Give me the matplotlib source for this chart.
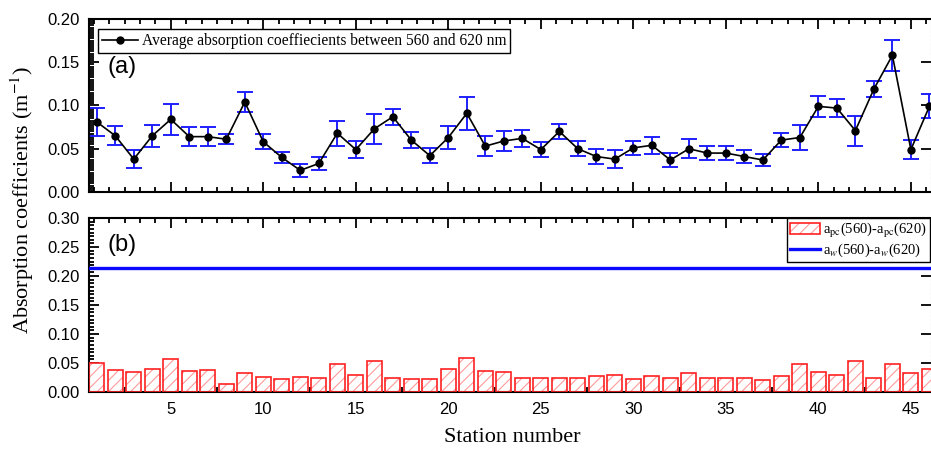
import numpy as np
import matplotlib
matplotlib.use("Agg")
import matplotlib.pyplot as plt
from matplotlib.ticker import MultipleLocator, AutoMinorLocator
from matplotlib.patches import Patch
from matplotlib.lines import Line2D
from matplotlib.legend_handler import HandlerTuple

plt.rcParams['font.family'] = ['Liberation Sans', 'DejaVu Sans']
plt.rcParams['mathtext.fontset'] = 'stix'
plt.rcParams['hatch.linewidth'] = 0.8

# data
stations = np.arange(1, 47)
avg_abs = [0.081, 0.065, 0.038, 0.065, 0.084, 0.064, 0.064, 0.061, 0.104, 0.058,
           0.040, 0.025, 0.033, 0.068, 0.049, 0.073, 0.087, 0.060, 0.042, 0.063,
           0.091, 0.053, 0.059, 0.062, 0.049, 0.070, 0.050, 0.041, 0.038, 0.051,
           0.054, 0.037, 0.050, 0.045, 0.045, 0.041, 0.037, 0.060, 0.063, 0.099,
           0.097, 0.071, 0.119, 0.158, 0.049, 0.099]
avg_err = [0.016, 0.011, 0.0105, 0.013, 0.018, 0.011, 0.011, 0.006, 0.012, 0.0085,
           0.006, 0.0077, 0.0077, 0.0145, 0.010, 0.017, 0.009, 0.0093, 0.0085, 0.013,
           0.019, 0.0115, 0.012, 0.0095, 0.0087, 0.0088, 0.0088, 0.0092, 0.010, 0.0077,
           0.010, 0.008, 0.011, 0.008, 0.008, 0.007, 0.0073, 0.0085, 0.015, 0.0125,
           0.0106, 0.0173, 0.009, 0.0176, 0.0106, 0.014]
apc_diff = [0.050, 0.038, 0.035, 0.039, 0.057, 0.036, 0.038, 0.014, 0.033, 0.026,
            0.022, 0.026, 0.025, 0.049, 0.029, 0.053, 0.025, 0.022, 0.022, 0.040,
            0.059, 0.036, 0.034, 0.025, 0.024, 0.025, 0.025, 0.028, 0.030, 0.022,
            0.028, 0.025, 0.033, 0.025, 0.024, 0.024, 0.021, 0.028, 0.048, 0.035,
            0.030, 0.054, 0.024, 0.048, 0.032, 0.040]
aw_diff = 0.213

W, H = 931, 449
fig = plt.figure(figsize=(W / 100, H / 100), dpi=100)
left, right = 89 / W, 930.5 / W
ax1 = fig.add_axes([left, 1 - 192 / H, right - left, 173 / H])
ax2 = fig.add_axes([left, 1 - 392 / H, right - left, 174 / H])

blue = '#1f1fff'

# top panel
ax1.errorbar(stations, avg_abs, yerr=avg_err, fmt='none', ecolor=blue,
             elinewidth=1.4, capsize=5.5, capthick=1.4, zorder=2)
ax1.plot(stations, avg_abs, color='black', lw=1.2, marker='o', ms=5,
         zorder=3)
ax1.set_ylim(0, 0.20)
ax1.yaxis.set_major_locator(MultipleLocator(0.05))
ax1.yaxis.set_minor_locator(AutoMinorLocator(20))
ax1.tick_params(labelbottom=False)

h1 = Line2D([], [], color='black', lw=1.2, marker='o', ms=5)
ax1.legend([h1], ['Average absorption coeffiecients between 560 and 620 nm'],
           loc='upper left', bbox_to_anchor=(0.0107, 0.94), borderaxespad=0,
           fancybox=False, edgecolor='black', framealpha=1, handlelength=2.3,
           handletextpad=0.25, borderpad=0.25,
           prop={'family': 'Liberation Serif', 'size': 11.2})
ax1.text(0.022, 0.785, '(a)', transform=ax1.transAxes, ha='left', va='top',
         fontsize=17)

# bottom panel
ax2.bar(stations, apc_diff, width=0.8, color='white', edgecolor='#ff9a9a',
        linewidth=0, hatch='///', zorder=2)
ax2.bar(stations, apc_diff, width=0.8, fill=False, edgecolor='#ff2020',
        linewidth=1.2, zorder=3)
ax2.axhline(aw_diff, color='#0a0aff', lw=2.4, zorder=4)
ax2.set_ylim(0, 0.30)
ax2.yaxis.set_major_locator(MultipleLocator(0.05))
ax2.yaxis.set_minor_locator(AutoMinorLocator(8))

hp1 = Patch(facecolor='white', edgecolor='#ff9a9a', linewidth=0, hatch='///')
hp2 = Patch(fill=False, edgecolor='#ff2020', linewidth=1.2)
hl = Line2D([], [], color='#0a0aff', lw=2.4)
ax2.legend([(hp1, hp2), hl],
           [r'a$_{\rm pc}$(560)-a$_{\rm pc}$(620)', r'a$_w$(560)-a$_w$(620)'],
           handler_map={tuple: HandlerTuple(ndivide=1)},
           loc='upper left', bbox_to_anchor=(0.83, 1.0), borderaxespad=0,
           fancybox=False, edgecolor='black', framealpha=1, handlelength=2.0,
           handletextpad=0.25, borderpad=0.2, labelspacing=0.15,
           handleheight=0.8, prop={'family': 'Liberation Serif', 'size': 10.5})
ax2.text(0.022, 0.91, '(b)', transform=ax2.transAxes, ha='left', va='top',
         fontsize=17)

for ax in (ax1, ax2):
    ax.set_xlim(0.58, 46.06)
    ax.xaxis.set_major_locator(MultipleLocator(5))
    ax.xaxis.set_minor_locator(AutoMinorLocator(6))
    ax.tick_params(which='both', direction='in', top=True, right=True,
                   width=1.3, labelsize=12)
    ax.tick_params(which='major', length=7, pad=7)
    ax.tick_params(which='minor', length=3.5)
    ax.tick_params(axis='y', which='minor', right=False)
    ax.yaxis.set_major_formatter(matplotlib.ticker.FormatStrFormatter('%.2f'))
    for s in ('left', 'top', 'bottom'):
        ax.spines[s].set_linewidth(1.5)
    ax.spines['right'].set_linestyle((0, (2, 2)))
    ax.spines['right'].set_color('#aaaaaa')
    ax.spines['right'].set_linewidth(0.8)

fig.text(22 / W, 1 - 200 / H, 'Absorption coefficients (m$^{-1}$)',
         rotation=90, ha='center', va='center', fontsize=16,
         family='Liberation Serif')
fig.text(512 / W, 1 - 437 / H, 'Station number', ha='center', va='center',
         fontsize=16, family='Liberation Serif')

fig.savefig('out.png', dpi=100)
